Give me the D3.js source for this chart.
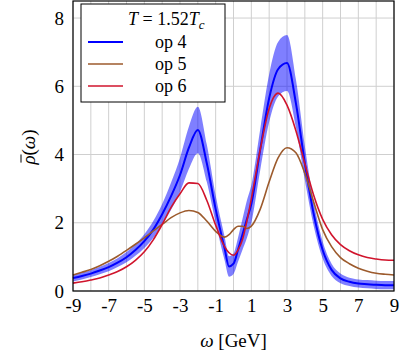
<!DOCTYPE html>
<html>
<head>
<meta charset="utf-8">
<script src="https://cdn.jsdelivr.net/npm/d3@7"></script>
<style>
  body { margin: 0; background: #fff; }
  text { font-family: "Liberation Serif", "DejaVu Serif", serif; }
</style>
</head>
<body>
<div id="chart"></div>
<script>
// omega grid (GeV) shared by all curves
var omega = [-9, -8.5, -8, -7.5, -7, -6.5, -6, -5.5, -5, -4.5, -4, -3.5, -3, -2.5, -2, -1.5, -1, -0.5, -0.25, 0, 0.25, 0.5, 0.75, 1, 1.5, 2, 2.5, 3, 3.5, 4, 4.5, 5, 5.5, 6, 6.5, 7, 7.5, 8, 8.5, 9];

var op4 = [0.38, 0.44, 0.51, 0.6, 0.7, 0.83, 0.99, 1.2, 1.46, 1.8, 2.25, 2.78, 3.4, 4.2, 4.72, 3.75, 2.4, 1.25, 0.72, 0.8, 1.2, 1.65, 2.1, 2.55, 4.15, 5.65, 6.5, 6.68, 5.5, 3.75, 2.25, 1.2, 0.62, 0.37, 0.27, 0.22, 0.2, 0.18, 0.17, 0.17];
var op4err = [0.1, 0.1, 0.1, 0.11, 0.12, 0.13, 0.15, 0.17, 0.2, 0.25, 0.3, 0.4, 0.5, 0.62, 0.68, 0.55, 0.4, 0.35, 0.3, 0.3, 0.35, 0.45, 0.55, 0.55, 0.6, 0.7, 0.8, 0.82, 0.7, 0.5, 0.35, 0.25, 0.18, 0.14, 0.12, 0.12, 0.12, 0.12, 0.12, 0.12];
var op5 = [0.47, 0.55, 0.63, 0.74, 0.87, 1.02, 1.19, 1.37, 1.56, 1.76, 1.95, 2.15, 2.29, 2.36, 2.3, 2.05, 1.75, 1.58, 1.65, 1.8, 1.9, 1.9, 1.83, 1.9, 2.4, 3.2, 3.9, 4.2, 4.05, 3.45, 2.6, 1.8, 1.3, 0.98, 0.8, 0.67, 0.58, 0.52, 0.49, 0.47];
var op6 = [0.23, 0.27, 0.32, 0.38, 0.47, 0.57, 0.71, 0.9, 1.15, 1.5, 1.95, 2.45, 2.85, 3.17, 3.15, 2.66, 1.93, 1.3, 1.12, 1.05, 1.2, 1.5, 2.05, 2.7, 4.15, 5.35, 5.8, 5.45, 4.7, 3.73, 2.8, 2.1, 1.65, 1.36, 1.18, 1.06, 0.98, 0.94, 0.91, 0.9];

var xTicks = [-9, -7, -5, -3, -1, 1, 3, 5, 7, 9];
var yTicks = [0, 2, 4, 6, 8];
var legendLabels = ["op 4", "op 5", "op 6"];
var colors = ["#0000ff", "#9c5a2c", "#d0142c"];

var svgWidth = 407;
var svgHeight = 360;
var margin = { top: 1, right: 13, bottom: 69, left: 73 };
var width = svgWidth - margin.left - margin.right;
var height = svgHeight - margin.top - margin.bottom;

var svg = d3.select("#chart")
    .append("svg")
    .attr("width", svgWidth)
    .attr("height", svgHeight);

var chartGroup = svg.append("g")
    .attr("transform", `translate(${margin.left}, ${margin.top})`);

var xScale = d3.scaleLinear().domain([-9, 9]).range([0, width]);
var yScale = d3.scaleLinear().domain([0, 8.5]).range([height, 0]);

// grid
chartGroup.append("g")
    .selectAll("line")
    .data(d3.range(-9, 10))
    .enter()
    .append("line")
    .attr("x1", d => xScale(d)).attr("x2", d => xScale(d))
    .attr("y1", 0).attr("y2", height)
    .attr("stroke", "#cfcfcf").attr("stroke-width", 1);

chartGroup.append("g")
    .selectAll("line")
    .data(yTicks)
    .enter()
    .append("line")
    .attr("x1", 0).attr("x2", width)
    .attr("y1", d => yScale(d)).attr("y2", d => yScale(d))
    .attr("stroke", "#cfcfcf").attr("stroke-width", 1);

// axes (labels only, pgfplots style) - plain hyphen for negatives
var xAxis = d3.axisBottom(xScale).tickValues(xTicks).tickSize(0).tickPadding(8).tickFormat(d => String(d));
var yAxis = d3.axisLeft(yScale).tickValues(yTicks).tickSize(0).tickPadding(9).tickFormat(d => String(d));

var gx = chartGroup.append("g")
    .attr("transform", `translate(0, ${height})`)
    .call(xAxis);
var gy = chartGroup.append("g").call(yAxis);
[gx, gy].forEach(function(g) {
    g.select(".domain").remove();
    g.selectAll("text").attr("font-size", 19).attr("fill", "#000")
        .style("font-family", '"Liberation Serif", serif');
});

// error band for op 4
var rows = omega.map((w, i) => ({ w: w, a: op4[i], e: op4err[i], b: op5[i], c: op6[i] }));

var area = d3.area()
    .x(d => xScale(d.w))
    .y0(d => yScale(d.a - d.e))
    .y1(d => yScale(d.a + d.e))
    .curve(d3.curveMonotoneX);

chartGroup.append("path")
    .datum(rows)
    .attr("d", area)
    .attr("fill", "#0000ff")
    .attr("fill-opacity", 0.5);

var keys = ["a", "b", "c"];
var widths = [2, 1.6, 1.6];
keys.forEach(function(k, i) {
    var line = d3.line()
        .x(d => xScale(d.w))
        .y(d => yScale(d[k]))
        .curve(d3.curveMonotoneX);
    chartGroup.append("path")
        .datum(rows)
        .attr("d", line)
        .attr("fill", "none")
        .attr("stroke", colors[i])
        .attr("stroke-width", widths[i]);
});

// frame
chartGroup.append("rect")
    .attr("x", 0).attr("y", 0)
    .attr("width", width).attr("height", height)
    .attr("fill", "none").attr("stroke", "#000").attr("stroke-width", 1.2);

// legend
var legend = svg.append("g").attr("transform", "translate(81, 4)");
legend.append("rect")
    .attr("width", 144).attr("height", 98)
    .attr("fill", "#fff").attr("stroke", "#000").attr("stroke-width", 1);

var title = legend.append("text")
    .attr("x", 47).attr("y", 21)
    .attr("font-size", 18);
title.append("tspan").attr("font-style", "italic").text("T");
title.append("tspan").text(" = 1.52");
title.append("tspan").attr("font-style", "italic").text("T");
title.append("tspan").attr("font-style", "italic").attr("font-size", 13).attr("dy", 4).text("c");

legendLabels.forEach(function(lbl, i) {
    var y = 38 + i * 22;
    legend.append("line")
        .attr("x1", 7).attr("x2", 42)
        .attr("y1", y).attr("y2", y)
        .attr("stroke", colors[i]).attr("stroke-width", widths[i]);
    legend.append("text")
        .attr("x", 74).attr("y", y + 6)
        .attr("font-size", 18)
        .text(lbl);
});

// axis titles
var xl = svg.append("text")
    .attr("x", margin.left + width / 2).attr("y", 347)
    .attr("text-anchor", "middle")
    .attr("font-size", 19);
xl.append("tspan").attr("font-style", "italic").text("ω");
xl.append("tspan").text(" [GeV]");

var ylg = svg.append("g").attr("transform", "translate(35, 147) rotate(-90)");
var yl = ylg.append("text")
    .attr("text-anchor", "middle")
    .attr("font-size", 19);
yl.append("tspan").attr("font-style", "italic").text("ρ");
yl.append("tspan").text("(");
yl.append("tspan").attr("font-style", "italic").text("ω");
yl.append("tspan").text(")");
// macron over rho
var total = yl.node().getComputedTextLength();
var rhoW = yl.node().getSubStringLength(0, 1);
ylg.append("line")
    .attr("x1", -total / 2 + 2).attr("x2", -total / 2 + rhoW + 1)
    .attr("y1", -14).attr("y2", -14)
    .attr("stroke", "#000").attr("stroke-width", 1);
</script>
</body>
</html>
